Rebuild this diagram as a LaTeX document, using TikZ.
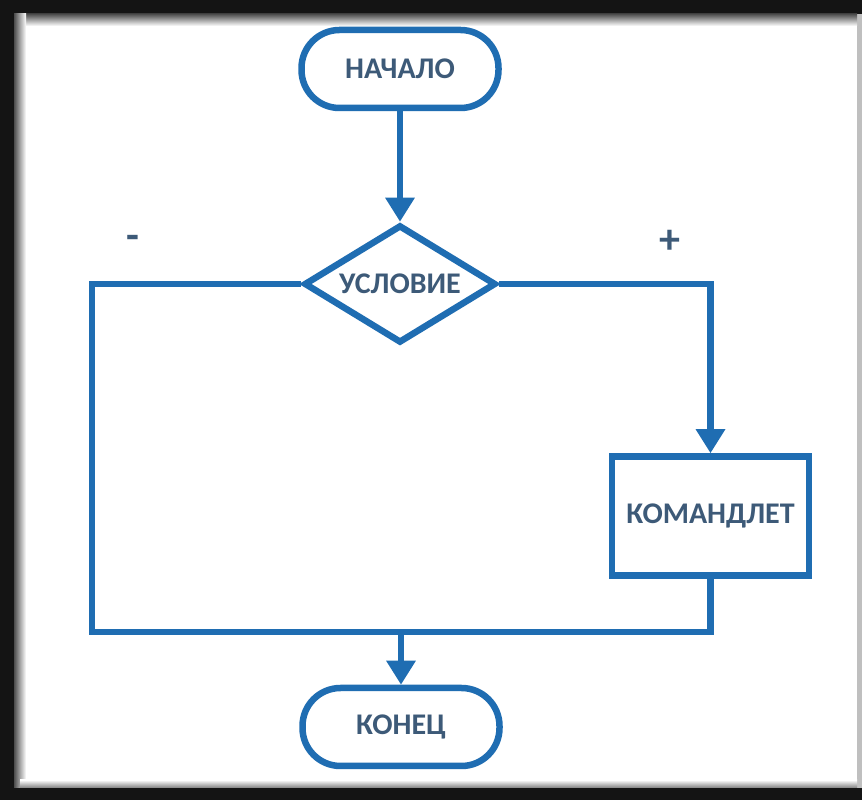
\documentclass[tikz,border=0pt]{standalone}
\usepackage{fontspec}
\setmainfont{Carlito}
\usetikzlibrary{shapes.geometric,arrows.meta,calc}
\definecolor{lineblue}{HTML}{1F6DB2}
\definecolor{txtblue}{HTML}{3D5A78}
\begin{document}
\begin{tikzpicture}[x=1pt,y=1pt,
  flow/.style={draw=lineblue,line width=6.5pt,fill=white,text=txtblue,font=\fontsize{30}{31}\selectfont\bfseries,inner sep=0pt},
  term/.style={flow,rectangle,rounded corners=38pt,minimum width=197pt,minimum height=78pt},
  cmdbox/.style={flow,rectangle,minimum width=197pt,minimum height=119pt},
  decide/.style={flow,diamond,aspect=1.63,minimum width=192pt,minimum height=118pt},
  link/.style={draw=lineblue,line width=6.5pt,line join=miter},
  arr/.style={link,-{Triangle[width=28pt,length=24pt]}},
  sign/.style={text=txtblue,font=\fontsize{42}{42}\selectfont\bfseries}]
\useasboundingbox (0,0) rectangle (862,800);
\fill[white] (0,0) rectangle (862,800);
\fill[black!92] (0,0) rectangle (20,800);
\fill[black!92] (0,786) rectangle (862,800);
\fill[black!92] (0,0) rectangle (862,12);
\fill[black!25] (857,12) rectangle (862,786);
\shade[top color=black!70,bottom color=white] (20,774) rectangle (857,786);
\shade[left color=black!70,right color=white] (14,12) rectangle (26,786);
\shade[bottom color=black!50,top color=white] (20,12) rectangle (857,20);
\node[term] (start) at (400,731) {НАЧАЛО};
\node[decide] (cond) at (400,516) {УСЛОВИЕ};
\node[cmdbox] (cmd) at (710.5,284) {КОМАНДЛЕТ};
\node[term] (end) at (401,73) {КОНЕЦ};
\node[sign] (minus) at (133,558) {-};
\node[sign] (plus) at (670,558) {+};
\coordinate (bl) at (92,168);
\coordinate (br) at (cmd.south |- bl);
\coordinate (mid) at (end.north |- bl);
\draw[arr] (start.south) -- (cond.north);
\draw[arr] (cond.east) -| (cmd.north);
\draw[link] (cond.west) -| (bl) -- (br) -- (cmd.south);
\draw[arr] (mid) -- (end.north);
\end{tikzpicture}
\end{document}
